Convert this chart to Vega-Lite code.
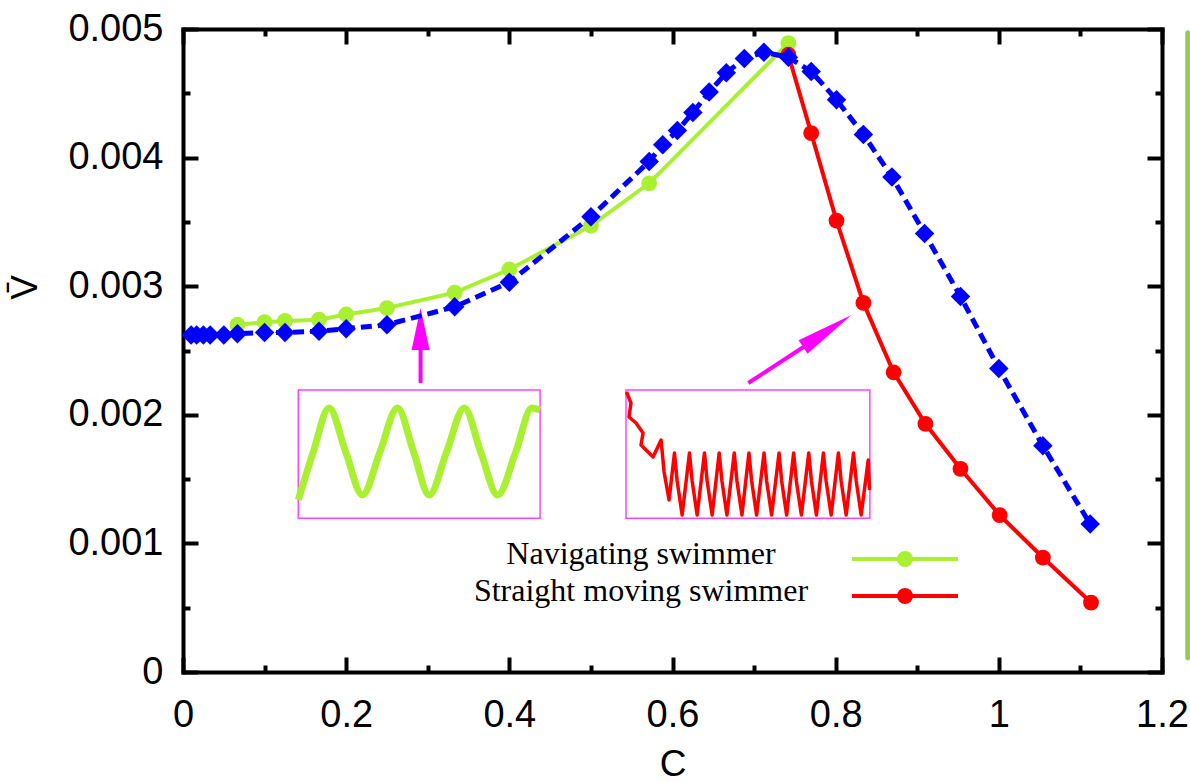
{
  "$schema": "https://vega.github.io/schema/vega-lite/v6.json",
  "width": 979,
  "height": 643,
  "autosize": {"type": "none"},
  "padding": {"left": 183, "top": 29, "right": 28, "bottom": 110},
  "background": "white",
  "config": {
    "view": {"stroke": null},
    "axis": {
      "grid": false,
      "labelFont": "Liberation Sans",
      "labelFontSize": 38,
      "labelColor": "black",
      "titleFont": "Liberation Sans",
      "titleFontSize": 37,
      "titleFontWeight": "normal",
      "titleColor": "black",
      "domainColor": "black",
      "domainWidth": 4,
      "domainCap": "square",
      "tickColor": "black",
      "tickWidth": 4,
      "labelFlush": false,
      "labelOverlap": false
    }
  },
  "datasets": {
    "blue": [
      {"C": 0.01, "V": 0.00262}, {"C": 0.0167, "V": 0.00262}, {"C": 0.025, "V": 0.00262}, {"C": 0.0333, "V": 0.00262},
      {"C": 0.05, "V": 0.00262}, {"C": 0.0667, "V": 0.00263}, {"C": 0.1, "V": 0.00264}, {"C": 0.125, "V": 0.00264},
      {"C": 0.1667, "V": 0.00265}, {"C": 0.2, "V": 0.00267}, {"C": 0.25, "V": 0.0027}, {"C": 0.333, "V": 0.00284},
      {"C": 0.4, "V": 0.00303}, {"C": 0.5, "V": 0.00354}, {"C": 0.5714, "V": 0.00397}, {"C": 0.588, "V": 0.0041},
      {"C": 0.606, "V": 0.00421}, {"C": 0.625, "V": 0.00435}, {"C": 0.645, "V": 0.00451}, {"C": 0.666, "V": 0.00466},
      {"C": 0.688, "V": 0.00477}, {"C": 0.712, "V": 0.00482}, {"C": 0.742, "V": 0.00478}, {"C": 0.77, "V": 0.00467},
      {"C": 0.801, "V": 0.00445}, {"C": 0.834, "V": 0.00418}, {"C": 0.869, "V": 0.00385}, {"C": 0.909, "V": 0.00341},
      {"C": 0.953, "V": 0.00292}, {"C": 1.0, "V": 0.00236}, {"C": 1.054, "V": 0.00176}, {"C": 1.112, "V": 0.00115}
    ],
    "main": [
      {"series": "Navigating swimmer", "C": 0.0667, "V": 0.0027},
      {"series": "Navigating swimmer", "C": 0.1, "V": 0.00272},
      {"series": "Navigating swimmer", "C": 0.125, "V": 0.00273},
      {"series": "Navigating swimmer", "C": 0.1667, "V": 0.00274},
      {"series": "Navigating swimmer", "C": 0.2, "V": 0.00278},
      {"series": "Navigating swimmer", "C": 0.25, "V": 0.00283},
      {"series": "Navigating swimmer", "C": 0.333, "V": 0.00295},
      {"series": "Navigating swimmer", "C": 0.4, "V": 0.00313},
      {"series": "Navigating swimmer", "C": 0.5, "V": 0.00347},
      {"series": "Navigating swimmer", "C": 0.5714, "V": 0.0038},
      {"series": "Navigating swimmer", "C": 0.742, "V": 0.00489},
      {"series": "Straight moving swimmer", "C": 0.742, "V": 0.0048},
      {"series": "Straight moving swimmer", "C": 0.77, "V": 0.00419},
      {"series": "Straight moving swimmer", "C": 0.801, "V": 0.00351},
      {"series": "Straight moving swimmer", "C": 0.834, "V": 0.00287},
      {"series": "Straight moving swimmer", "C": 0.871, "V": 0.00233},
      {"series": "Straight moving swimmer", "C": 0.91, "V": 0.00193},
      {"series": "Straight moving swimmer", "C": 0.953, "V": 0.00158},
      {"series": "Straight moving swimmer", "C": 1.001, "V": 0.00122},
      {"series": "Straight moving swimmer", "C": 1.054, "V": 0.00089},
      {"series": "Straight moving swimmer", "C": 1.113, "V": 0.00054}
    ],
    "insetGreen": [
      {"C": 0.1413, "V": 0.001337}, {"C": 0.1597, "V": 0.001711}, {"C": 0.179, "V": 0.002053}, {"C": 0.1994, "V": 0.001711},
      {"C": 0.2199, "V": 0.001376}, {"C": 0.2414, "V": 0.001711}, {"C": 0.2629, "V": 0.002053}, {"C": 0.2826, "V": 0.001711},
      {"C": 0.3018, "V": 0.001376}, {"C": 0.3231, "V": 0.001711}, {"C": 0.3448, "V": 0.002053}, {"C": 0.3649, "V": 0.001711},
      {"C": 0.3857, "V": 0.001376}, {"C": 0.4079, "V": 0.001711}, {"C": 0.4275, "V": 0.002053}, {"C": 0.4373, "V": 0.002037}
    ],
    "insetRed": [
      {"i": 0, "C": 0.5436, "V": 0.002177}, {"i": 1, "C": 0.5491, "V": 0.002092}, {"i": 2, "C": 0.5467, "V": 0.001983},
      {"i": 3, "C": 0.5553, "V": 0.001936}, {"i": 4, "C": 0.5639, "V": 0.001858}, {"i": 5, "C": 0.5614, "V": 0.001765},
      {"i": 6, "C": 0.5676, "V": 0.001726}, {"i": 7, "C": 0.5762, "V": 0.001672}, {"i": 8, "C": 0.586, "V": 0.001804},
      {"i": 9, "C": 0.5897, "V": 0.001555}, {"i": 10, "C": 0.5958, "V": 0.001337},
      {"i": 11, "C": 0.6024, "V": 0.001703}, {"i": 12, "C": 0.6057, "V": 0.001485}, {"i": 13, "C": 0.6118, "V": 0.001221},
      {"i": 14, "C": 0.6208, "V": 0.001703}, {"i": 15, "C": 0.6241, "V": 0.001485}, {"i": 16, "C": 0.6302, "V": 0.001221},
      {"i": 17, "C": 0.6392, "V": 0.001703}, {"i": 18, "C": 0.6425, "V": 0.001485}, {"i": 19, "C": 0.6486, "V": 0.001221},
      {"i": 20, "C": 0.6572, "V": 0.001703}, {"i": 21, "C": 0.6606, "V": 0.001485}, {"i": 22, "C": 0.6667, "V": 0.001221},
      {"i": 23, "C": 0.6757, "V": 0.001703}, {"i": 24, "C": 0.679, "V": 0.001485}, {"i": 25, "C": 0.6851, "V": 0.001221},
      {"i": 26, "C": 0.6937, "V": 0.001703}, {"i": 27, "C": 0.697, "V": 0.001485}, {"i": 28, "C": 0.7031, "V": 0.001221},
      {"i": 29, "C": 0.7122, "V": 0.001703}, {"i": 30, "C": 0.7154, "V": 0.001485}, {"i": 31, "C": 0.7215, "V": 0.001221},
      {"i": 32, "C": 0.7306, "V": 0.001703}, {"i": 33, "C": 0.7338, "V": 0.001485}, {"i": 34, "C": 0.7399, "V": 0.001221},
      {"i": 35, "C": 0.7485, "V": 0.001703}, {"i": 36, "C": 0.7518, "V": 0.001485}, {"i": 37, "C": 0.758, "V": 0.001221},
      {"i": 38, "C": 0.767, "V": 0.001703}, {"i": 39, "C": 0.7703, "V": 0.001485}, {"i": 40, "C": 0.7764, "V": 0.001221},
      {"i": 41, "C": 0.785, "V": 0.001703}, {"i": 42, "C": 0.7883, "V": 0.001485}, {"i": 43, "C": 0.7945, "V": 0.001221},
      {"i": 44, "C": 0.8034, "V": 0.001703}, {"i": 45, "C": 0.8067, "V": 0.001485}, {"i": 46, "C": 0.8129, "V": 0.001221},
      {"i": 47, "C": 0.8219, "V": 0.001703}, {"i": 48, "C": 0.8252, "V": 0.001485}, {"i": 49, "C": 0.8313, "V": 0.001221},
      {"i": 50, "C": 0.8399, "V": 0.001649}, {"i": 51, "C": 0.8415, "V": 0.001415}
    ],
    "boxes": [
      {"c1": 0.1413, "c2": 0.4377, "v1": 0.001195, "v2": 0.002193},
      {"c1": 0.543, "c2": 0.8419, "v1": 0.001195, "v2": 0.002193}
    ],
    "shafts": [
      {"c1": 0.2912, "v1": 0.002247, "c2": 0.2912, "v2": 0.002659},
      {"c1": 0.6929, "v1": 0.002247, "c2": 0.7887, "v2": 0.002644}
    ],
    "headLeft": [{"C": 0.2912, "V": 0.00283}],
    "headRight": [{"C": 0.8194, "V": 0.002776}],
    "deco": [{"c1": 1.2285, "c2": 1.2345, "v1": 0.00009, "v2": 0.00499}]
  },
  "resolve": {"axis": {"x": "independent", "y": "independent"}},
  "layer": [
    {
      "data": {"name": "deco"},
      "mark": {"type": "rect", "fill": "#8fd14f", "cornerRadius": 3},
      "encoding": {
        "x": {"field": "c1", "type": "quantitative", "scale": {"domain": [0, 1.2], "nice": false, "zero": false}, "axis": null},
        "x2": {"field": "c2"},
        "y": {"field": "v1", "type": "quantitative", "scale": {"domain": [0, 0.005], "nice": false}, "axis": null},
        "y2": {"field": "v2"}
      }
    },
    {
      "data": {"name": "boxes"},
      "mark": {"type": "rect", "fill": null, "stroke": "#ff44ff", "strokeWidth": 1.5},
      "encoding": {
        "x": {"field": "c1", "type": "quantitative", "axis": null},
        "x2": {"field": "c2"},
        "y": {"field": "v1", "type": "quantitative", "axis": null},
        "y2": {"field": "v2"}
      }
    },
    {
      "data": {"name": "insetGreen"},
      "mark": {"type": "line", "color": "#aaf032", "strokeWidth": 7, "interpolate": "monotone"},
      "encoding": {
        "x": {"field": "C", "type": "quantitative", "axis": {"orient": "top", "values": [0, 0.2, 0.4, 0.6, 0.8, 1, 1.2], "labels": false, "tickSize": -15, "title": null}},
        "y": {"field": "V", "type": "quantitative", "axis": {"orient": "right", "values": [0, 0.001, 0.002, 0.003, 0.004, 0.005], "labels": false, "tickSize": -15, "title": null}}
      }
    },
    {
      "data": {"name": "insetRed"},
      "mark": {"type": "line", "color": "#ff0000", "strokeWidth": 3.5, "strokeJoin": "round"},
      "encoding": {
        "x": {"field": "C", "type": "quantitative", "axis": {"orient": "top", "values": [0.1, 0.3, 0.5, 0.7, 0.9, 1.1], "labels": false, "domain": false, "tickSize": -7, "title": null}},
        "y": {"field": "V", "type": "quantitative", "axis": {"orient": "right", "values": [0.0005, 0.0015, 0.0025, 0.0035, 0.0045], "labels": false, "domain": false, "tickSize": -7, "title": null}},
        "order": {"field": "i", "type": "quantitative"}
      }
    },
    {
      "data": {"name": "shafts"},
      "mark": {"type": "rule", "color": "#ff00ff", "strokeWidth": 4},
      "encoding": {
        "x": {"field": "c1", "type": "quantitative", "axis": null},
        "y": {"field": "v1", "type": "quantitative", "axis": null},
        "x2": {"field": "c2"},
        "y2": {"field": "v2"}
      }
    },
    {
      "data": {"name": "headLeft"},
      "mark": {"type": "point", "shape": "M0,0L0.43,2L-0.43,2Z", "size": 1764, "filled": true, "color": "#ff00ff", "opacity": 1, "angle": 0},
      "encoding": {
        "x": {"field": "C", "type": "quantitative", "axis": null},
        "y": {"field": "V", "type": "quantitative", "axis": null}
      }
    },
    {
      "data": {"name": "headRight"},
      "mark": {"type": "point", "shape": "M0,0L0.28,2L-0.28,2Z", "size": 3364, "filled": true, "color": "#ff00ff", "opacity": 1, "angle": 56.6},
      "encoding": {
        "x": {"field": "C", "type": "quantitative", "axis": null},
        "y": {"field": "V", "type": "quantitative", "axis": null}
      }
    },
    {
      "data": {"name": "main"},
      "mark": {"type": "line", "strokeWidth": 4, "point": {"filled": true, "size": 250, "opacity": 1}},
      "encoding": {
        "x": {"field": "C", "type": "quantitative", "axis": null},
        "y": {"field": "V", "type": "quantitative", "axis": null},
        "color": {
          "field": "series",
          "type": "nominal",
          "scale": {"domain": ["Navigating swimmer", "Straight moving swimmer"], "range": ["#aaf032", "#ff0000"]},
          "legend": {
            "orient": "none",
            "legendX": 706,
            "legendY": 514,
            "title": null,
            "padding": 0,
            "labelFont": "Liberation Serif",
            "labelFontSize": 32,
            "labelColor": "black",
            "labelAlign": "center",
            "labelBaseline": "alphabetic",
            "labelOffset": -280,
            "labelLimit": 600,
            "symbolType": "M-5.3,0L5.3,0M0.6,0A0.6,0.6,0,1,1,-0.6,0A0.6,0.6,0,1,1,0.6,0Z",
            "symbolSize": 400,
            "symbolStrokeWidth": 4,
            "rowPadding": 2,
            "encode": {
              "labels": {"update": {"dy": {"value": 5}}},
              "symbols": {
                "update": {
                  "fill": {"scale": "color", "field": "value"},
                  "stroke": {"scale": "color", "field": "value"},
                  "opacity": {"value": 1}
                }
              }
            }
          }
        }
      }
    },
    {
      "data": {"name": "blue"},
      "mark": {"type": "line", "color": "#0000ff", "strokeWidth": 5, "strokeDash": [11, 6]},
      "encoding": {
        "x": {"field": "C", "type": "quantitative", "axis": {"orient": "bottom", "values": [0, 0.2, 0.4, 0.6, 0.8, 1, 1.2], "format": "~g", "tickSize": -15, "labelPadding": 39, "title": "C", "titlePadding": 12}},
        "y": {"field": "V", "type": "quantitative", "axis": {"orient": "left", "values": [0, 0.001, 0.002, 0.003, 0.004, 0.005], "format": ".3~f", "tickSize": -15, "labelPadding": 35, "title": "V\u0304", "titleX": -158, "titleY": 258, "titleAngle": -90, "titleAlign": "center", "titleBaseline": "middle"}}
      }
    },
    {
      "data": {"name": "blue"},
      "mark": {"type": "point", "shape": "diamond", "size": 380, "filled": true, "color": "#0000ff", "opacity": 1},
      "encoding": {
        "x": {"field": "C", "type": "quantitative", "axis": {"orient": "bottom", "values": [0.1, 0.3, 0.5, 0.7, 0.9, 1.1], "labels": false, "domain": false, "tickSize": -7, "title": null}},
        "y": {"field": "V", "type": "quantitative", "axis": {"orient": "left", "values": [0.0005, 0.0015, 0.0025, 0.0035, 0.0045], "labels": false, "domain": false, "tickSize": -7, "title": null}}
      }
    }
  ]
}
